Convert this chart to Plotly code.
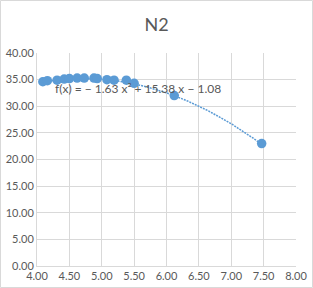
import numpy as np
import plotly.graph_objects as go

x_vals = [4.09, 4.16, 4.31, 4.42, 4.50, 4.62, 4.73, 4.88, 4.93, 5.08, 5.19, 5.38, 5.50, 6.12, 7.47]
y_vals = [34.6, 34.8, 34.9, 35.1, 35.2, 35.3, 35.3, 35.3, 35.2, 35.0, 34.9, 34.9, 34.3, 32.0, 23.0]
trend_coef = [-1.63, 15.38, -1.08]
x_ticks = [4.0, 4.5, 5.0, 5.5, 6.0, 6.5, 7.0, 7.5, 8.0]
y_ticks = [0, 5, 10, 15, 20, 25, 30, 35, 40]
title_text = "N2"
eq_text = "f(x) = − 1.63 x² + 15.38 x − 1.08"

W, H = 313, 288
ml, mr, mt, mb = 37, 17, 53, 22
pw, ph = W - ml - mr, H - mt - mb

tx = np.linspace(min(x_vals), max(x_vals), 200)
ty = np.polyval(trend_coef, tx)

fig = go.Figure()
fig.add_trace(go.Scatter(x=tx, y=ty, mode="lines",
                         line=dict(color="#5b9bd5", width=1.5, dash="2px,1px"),
                         hoverinfo="skip", showlegend=False))
fig.add_trace(go.Scatter(x=x_vals, y=y_vals, mode="markers",
                         marker=dict(color="#5b9bd5", size=9.5),
                         showlegend=False))

fig.add_annotation(x=4.25, y=33.4, xref="x", yref="y", text=eq_text,
                   showarrow=False, xanchor="left", yanchor="middle",
                   font=dict(family="Lato, sans-serif", size=12, color="#595959"))

fig.add_shape(type="rect", xref="paper", yref="paper",
              x0=-ml / pw + 0.5 / pw, x1=1 + mr / pw - 0.5 / pw,
              y0=-mb / ph + 0.5 / ph, y1=1 + mt / ph - 0.5 / ph,
              line=dict(color="#d9d9d9", width=1), layer="below")

fig.update_layout(
    width=W, height=H,
    margin=dict(l=ml, r=mr, t=mt, b=mb, autoexpand=False),
    paper_bgcolor="white", plot_bgcolor="white",
    title=dict(text=title_text, x=0.5, xanchor="center", y=1 - 25 / H, yanchor="middle",
               font=dict(family="Lato, sans-serif", size=18, color="#595959")),
    font=dict(family="Lato, sans-serif", size=11, color="#595959"),
    xaxis=dict(range=[4, 8], tickvals=x_ticks, ticktext=[f"{v:.2f}" for v in x_ticks],
               showgrid=True, gridcolor="#d9d9d9", gridwidth=1, automargin=False,
               showline=True, linecolor="#d9d9d9", zeroline=False, ticks="",
               tickfont=dict(size=11, color="#595959")),
    yaxis=dict(range=[0, 40], tickvals=y_ticks, ticktext=[f"{v:.2f}" for v in y_ticks],
               showgrid=True, gridcolor="#d9d9d9", gridwidth=1, automargin=False,
               showline=True, linecolor="#d9d9d9", zeroline=False, ticks="",
               tickfont=dict(size=11, color="#595959")),
)

fig.write_html("out.html")
